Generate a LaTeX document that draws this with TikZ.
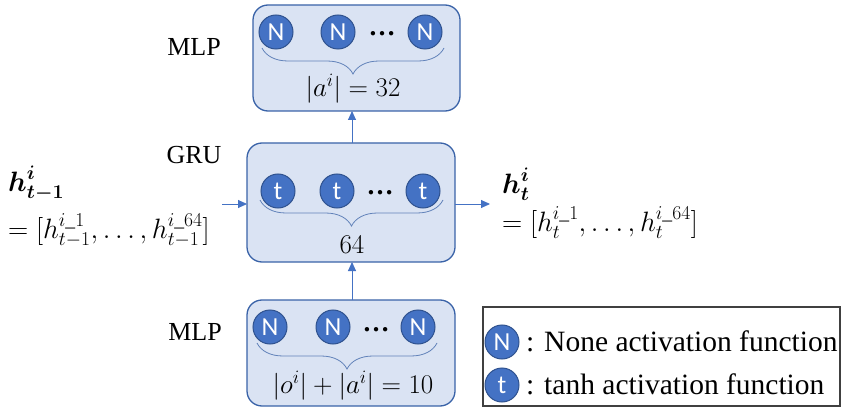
\RequirePackage{fix-cm}
\documentclass[tikz,border=0pt]{standalone}
\usepackage{amsmath}
\usepackage{fontspec}
\setmainfont{Liberation Serif}
\newfontfamily\unitfont{Carlito}
\usetikzlibrary{decorations.pathreplacing,arrows.meta}

\definecolor{boxfill}{HTML}{DAE3F3}
\definecolor{boxline}{HTML}{3A63A8}
\definecolor{unitfill}{HTML}{4472C4}
\definecolor{unitline}{HTML}{2F528F}
\definecolor{arrowblue}{HTML}{4472C4}

\tikzset{
  layerbox/.style={draw=boxline, fill=boxfill, line width=1.3pt, rounded corners=15pt},
  unit/.style={circle, draw=unitline, fill=unitfill, line width=1pt, minimum size=34pt,
    inner sep=0pt, text=white, font=\unitfont\fontsize{26}{26}\selectfont},
  ellip/.style={anchor=base, inner sep=0pt, font=\bfseries\fontsize{27}{27}\selectfont},
  groupbrace/.style={draw=boxline!80, line width=0.8pt, decorate,
    decoration={brace, mirror, amplitude=26pt, aspect=0.5}},
  flow/.style={draw=arrowblue, line width=0.9pt, -{Triangle[length=9pt,width=8pt]}},
  layername/.style={font=\fontsize{26}{30}\selectfont},
  sizelabel/.style={font=\fontsize{27}{30}\selectfont},
  statelabel/.style={anchor=north west, inner sep=0pt, align=left},
  legendtext/.style={font=\fontsize{29.5}{32}\selectfont, anchor=base west, inner sep=0pt}
}

\begin{document}
\begin{tikzpicture}[x=1pt, y=-1pt]
\useasboundingbox (0,0) rectangle (844,409);

% output MLP
\draw[layerbox] (253,5) rectangle (460,111);
\coordinate (topin) at (352,111);
\node[unit] (a1) at (276,32) {N};
\node[unit] (a2) at (338,32) {N};
\node[unit] (a3) at (425,32) {N};
\node[ellip] (adots) at (382,36) {…};
\draw[groupbrace] (262,48) -- (444,48);
\node[sizelabel] (asize) at (353,89) {$|a^{i}| = 32$};
\node[layername] (mlptop) at (194,47) {MLP};

% GRU layer
\draw[layerbox] (247,143) rectangle (455,262);
\coordinate (grutop) at (352,143);
\coordinate (grubot) at (352,262);
\coordinate (gruin) at (247,204);
\coordinate (gruout) at (455,204);
\node[unit] (g1) at (278,191) {t};
\node[unit] (g2) at (337,191) {t};
\node[unit] (g3) at (423,191) {t};
\node[ellip] (gdots) at (380,195) {…};
\draw[groupbrace] (260,200) -- (443,200);
\node[sizelabel] (gsize) at (352,245) {$64$};
\node[layername] (grulab) at (194,155) {GRU};

% input MLP
\draw[layerbox] (247,300) rectangle (455,406);
\coordinate (bottop) at (352,300);
\node[unit] (b1) at (270,327) {N};
\node[unit] (b2) at (333,327) {N};
\node[unit] (b3) at (418,327) {N};
\node[ellip] (bdots) at (376,331) {…};
\draw[groupbrace] (257,343) -- (437,343);
\node[sizelabel] (bsize) at (353,386) {$|o^{i}| + |a^{i}| = 10$};
\node[layername] (mlpbot) at (195,332) {MLP};

% hidden states
\node[statelabel, font=\fontsize{28}{47}\selectfont] (hprev) at (8,166)
  {$\boldsymbol{h}^{\boldsymbol{i}}_{\boldsymbol{t-1}}$\\
   $=[h^{i\_1}_{t-1},\ldots,h^{i\_64}_{t-1}]$};
\coordinate (hin) at (222,204);
\node[statelabel, font=\fontsize{28}{38}\selectfont] (hnext) at (502,168)
  {$\boldsymbol{h}^{\boldsymbol{i}}_{\boldsymbol{t}}$\\
   $=[h^{i\_1}_{t},\ldots,h^{i\_64}_{t}]$};
\coordinate (hout) at (490,204);

% data flow
\draw[flow] (bottop) -- (grubot);
\draw[flow] (grutop) -- (topin);
\draw[flow] (hin) -- (gruin);
\draw[flow] (gruout) -- (hout);

% legend
\draw[draw=black!75, line width=1.2pt] (483,307) rectangle (840,406);
\node[unit] (legN) at (502,342) {N};
\node[unit] (legt) at (502,385) {t};
\node[legendtext] (legNtxt) at (526,351) {: None activation function};
\node[legendtext] (legttxt) at (526,394) {: tanh activation function};
\end{tikzpicture}
\end{document}
